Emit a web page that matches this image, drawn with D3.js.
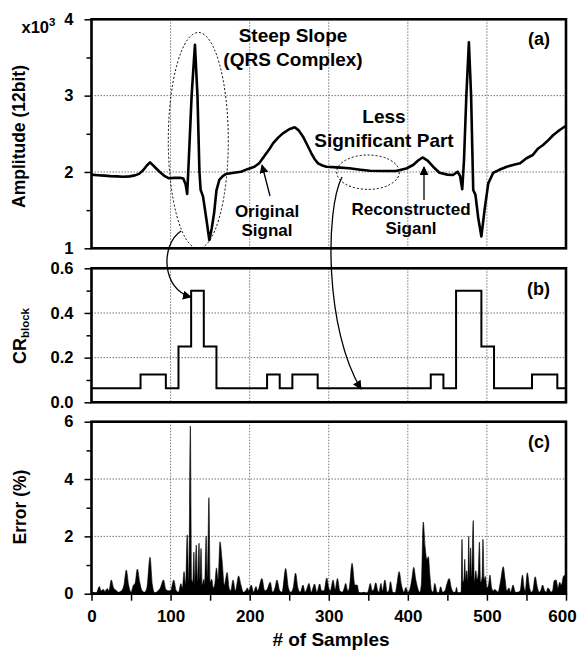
<!DOCTYPE html>
<html>
<head>
<meta charset="utf-8">
<script src="https://cdn.jsdelivr.net/npm/d3@7"></script>
<style>
body { margin: 0; background: #fff; }
svg { display: block; font-family: Arial, "Liberation Sans", sans-serif; font-weight: bold; }
.grid line { stroke: #777; stroke-width: 1; stroke-dasharray: 1.5,1.5; }
</style>
</head>
<body>
<svg width="578" height="650"></svg>
<script>
// ECG amplitude: [sample, value]
var signal = [[0,1965],[8,1958],[16,1952],[24,1946],[32,1942],[40,1938],[48,1942],[55,1955],[60,1975],[65,2020],[70,2085],[74,2125],[79,2075],[86,2003],[92,1950],[98,1917],[105,1922],[112,1925],[116,1915],[119,1840],[121,1711],[123,2150],[126.6,3000],[130.8,3665],[134,3000],[136.5,2000],[138,1765],[141,1680],[145,1400],[149,1109],[152,1260],[155,1459],[158,1760],[161.6,1895],[166,1945],[170,1973],[180,1990],[189,2003],[198,2040],[206,2069],[212,2115],[220,2230],[225,2300],[229.5,2375],[236,2450],[242,2506],[250,2560],[257,2585],[262,2545],[267.5,2462],[273,2350],[278,2245],[282,2170],[286.5,2113],[292,2085],[297,2069],[310,2060],[326,2048],[340,2030],[352,2016],[370,2012],[385,2013],[398,2045],[406.7,2091],[413,2150],[418.6,2190],[425,2150],[432,2069],[440,1990],[450,1965],[457,1960],[463,2003],[466,1950],[468.8,1773],[471,2150],[474,3000],[477.2,3700],[480,3000],[482.7,1764],[485.5,1700],[489,1400],[493,1155],[497,1500],[501.7,1851],[508,1990],[515,2025],[525,2069],[534,2095],[542,2113],[550,2180],[558,2222],[564,2300],[571,2353],[578,2420],[584,2484],[592,2550],[600,2605]];

// CR_block steps, panel (b)
var crEdges = [0,62,94,110,126,142,158,222,238,254,286,429,445,461,493,509,557,589,600];
var crLevels = [0.0625,0.125,0.0625,0.25,0.5,0.25,0.0625,0.125,0.0625,0.125,0.0625,0.125,0.0625,0.5,0.25,0.0625,0.125,0.0625];

// reconstruction error (%), panel (c): [sample, error]
var errorPts = [[0,0],[3,0.05],[6,0.02],[10,0.25],[12,0.1],[15,0.15],[17,0.08],[20,0.18],[22,0.1],[25,0.48],[28,0.2],[31,0.12],[34,0.05],[38,0.1],[41,0.3],[44,0.83],[47,0.3],[50,0.05],[53,0.3],[55,0.35],[58,0.86],[61,0.4],[64,0.1],[67,0.05],[70,0.2],[74,1.27],[77,0.3],[80,0.02],[84,0.1],[87,0.2],[91,0.48],[94,0.15],[97,0.1],[100,0.1],[104,0.48],[107,0.12],[110,0.05],[113,0.35],[115,0.2],[117,0.77],[119,0.3],[121,2.05],[123,0.4],[125,5.85],[126.5,0.5],[128,0.4],[129.5,1.45],[130.5,0.3],[132.5,1.7],[134,0.4],[136,1.76],[137,0.5],[138.5,1.58],[140,0.3],[142,0.5],[143,0.3],[145,2.01],[146.5,0.6],[148.5,3.35],[150,0.4],[152,0.5],[154,0.2],[156,0.35],[158,0.9],[160,0.5],[162.5,1.81],[165,1.2],[168,0.3],[171.5,0.74],[174,0.2],[176,0.1],[179,0.48],[182,0.1],[186,0.62],[189,0.3],[192,0.05],[195,0.1],[197,0.2],[199,0.1],[202,0.3],[205,0.05],[208,0.25],[210,0.1],[215.5,0.53],[219,0.1],[222,0.15],[226,0.4],[229,0.05],[232,0.2],[234.5,0.48],[238,0.1],[241,0.05],[245.5,0.88],[249,0.2],[252,0.05],[255,0.2],[258,0.72],[261,0.2],[264,0.05],[267.5,0.3],[270,0.05],[272,0.15],[275,0.36],[278,0.05],[280,0.2],[282,0.34],[285,0.05],[288.5,0.34],[291,0.1],[294,0.1],[297.5,0.55],[300,0.2],[302,0.1],[305.5,0.48],[308,0.15],[311,0.53],[314,0.1],[317,0.05],[319,0.15],[321.5,0.36],[324,0.1],[326,0.2],[329.5,1.06],[333,0.3],[336,0.3],[338,0.05],[341,0.02],[345,0.05],[348,0],[350,0.1],[352.5,0.36],[355,0.1],[357,0.15],[359.5,0.38],[362,0.1],[363.5,0.05],[366,0.36],[368,0.1],[371,0.48],[374,0.05],[376,0.1],[378,0.42],[381,0.05],[384,0.02],[386,0.3],[389,0.77],[392,0.3],[395,0.05],[397.5,0.22],[400,0.05],[403,0.2],[405,0.5],[407.5,0.92],[410,0.5],[413,0.15],[415,0.05],[417,0.3],[419.5,2.5],[422,1.6],[424,1.2],[426,1.29],[428,0.6],[430,0.1],[432,0.05],[434,0.36],[437,0.05],[439,0.02],[441.5,0.24],[444,0.05],[447,0.1],[449,0.3],[452.3,0.53],[455,0.2],[458,0.05],[460,0.05],[461.6,0.22],[463,0.05],[466,0.02],[467.5,0.1],[468.5,1.9],[469.5,0.4],[471,0.5],[472,1.2],[473,0.5],[474.5,0.8],[476,0.4],[477,2.0],[478,0.5],[479.3,1.6],[480.5,0.6],[482.7,2.55],[484,0.4],[486,0.8],[487.5,0.5],[489,0.7],[490.5,1.8],[492,0.4],[494,0.6],[495,1.9],[496.5,0.5],[498,0.6],[500,0.2],[502,0.3],[503.8,0.65],[506,0.2],[508,0.1],[510,0.15],[512,0.1],[514,0.05],[517,0.4],[520.7,0.94],[523,0.5],[525,0.1],[528,0.2],[530,0.05],[533,0.3],[536,0.05],[539,0.05],[542,0.1],[545,0.65],[547,0.2],[548.5,0.1],[551,0.73],[554,0.2],[556,0.05],[558,0.1],[561,0.59],[564,0.2],[566,0.05],[568,0.1],[570.4,0.3],[573,0.1],[575,0.05],[577,0.2],[579,0.15],[581,0.05],[583,0.1],[585,0.45],[587.5,0.48],[590,0.2],[592,0.4],[594,0.3],[597,0.62],[600,0.65]];

var xGrid = [100, 200, 300, 400, 500];
var xMajor = [0, 100, 200, 300, 400, 500, 600];
var xMinor = [50, 150, 250, 350, 450, 550];

var svg = d3.select("svg");

var x = d3.scaleLinear().domain([0, 600]).range([91.5, 566]);
var yA = d3.scaleLinear().domain([1000, 4000]).range([248.3, 19.3]);
var yB = d3.scaleLinear().domain([0, 0.6]).range([402.3, 268.3]);
var yC = d3.scaleLinear().domain([0, 6]).range([593.7, 421.7]);

function styleAxis(g, size) {
  g.attr("font-family", "Arial, 'Liberation Sans', sans-serif")
   .attr("font-size", size)
   .attr("font-weight", "bold");
  g.select(".domain").remove();
  g.selectAll(".tick line").attr("stroke-width", 1.5);
  g.selectAll(".tick text").attr("fill", "#000");
}

// grid lines, left axis, frame
function panel(y, major, minor, fmt) {
  var r = y.range();
  var gr = svg.append("g").attr("class", "grid");
  gr.selectAll(".vx").data(xGrid).join("line")
    .attr("x1", d => x(d)).attr("x2", d => x(d))
    .attr("y1", r[1]).attr("y2", r[0]);
  gr.selectAll(".hy").data(major.slice(1, -1)).join("line")
    .attr("x1", x(0)).attr("x2", x(600))
    .attr("y1", d => y(d)).attr("y2", d => y(d));

  svg.append("g")
    .attr("transform", "translate(" + x(0) + ",0)")
    .call(d3.axisLeft(y).tickValues(major).tickSize(7).tickPadding(11).tickFormat(fmt))
    .call(g => styleAxis(g, 16.5));
  svg.append("g")
    .attr("transform", "translate(" + x(0) + ",0)")
    .call(d3.axisLeft(y).tickValues(minor).tickSize(5).tickFormat(""))
    .call(g => styleAxis(g, 16.5));
}

panel(yA, [1000, 2000, 3000, 4000], [1500, 2500, 3500], d => d / 1000);
panel(yB, [0, 0.2, 0.4, 0.6], [0.1, 0.3, 0.5], d3.format(".1f"));
panel(yC, [0, 2, 4, 6], [1, 3, 5], d => d);

// (a) signal
var line = d3.line().x(d => x(d[0])).y(d => yA(d[1]));
svg.append("path")
  .datum(signal)
  .attr("fill", "none")
  .attr("stroke", "#000")
  .attr("stroke-width", 2.6)
  .attr("stroke-linejoin", "round")
  .attr("d", line);

// (b) CR block steps
var crSteps = crEdges.map((e, i) => [e, crLevels[Math.min(i, crLevels.length - 1)]]);
svg.append("path")
  .datum(crSteps)
  .attr("fill", "none")
  .attr("stroke", "#000")
  .attr("stroke-width", 2)
  .attr("d", d3.line().curve(d3.curveStepAfter).x(d => x(d[0])).y(d => yB(d[1])));

// (c) error area
svg.append("path")
  .datum(errorPts)
  .attr("fill", "#000")
  .attr("stroke", "#000")
  .attr("stroke-width", 0.6)
  .attr("d", d3.area().curve(d3.curveMonotoneX).x(d => x(d[0])).y0(yC(0)).y1(d => yC(d[1])));

// frames
[yA, yB, yC].forEach(function(y) {
  var r = y.range();
  svg.append("rect")
    .attr("x", x(0)).attr("y", r[1])
    .attr("width", x(600) - x(0)).attr("height", r[0] - r[1])
    .attr("fill", "none").attr("stroke", "#000").attr("stroke-width", 2.6);
});

// bottom x axis
svg.append("g")
  .attr("transform", "translate(0," + yC(0) + ")")
  .call(d3.axisBottom(x).tickValues(xMajor).tickSize(7).tickPadding(9))
  .call(g => styleAxis(g, 17))
  .call(g => g.selectAll(".tick text").filter(d => d === 600).attr("dx", -4));
svg.append("g")
  .attr("transform", "translate(0," + yC(0) + ")")
  .call(d3.axisBottom(x).tickValues(xMinor).tickSize(7).tickFormat(""))
  .call(g => styleAxis(g, 17));

svg.append("text")
  .attr("x", 331).attr("y", 646)
  .attr("text-anchor", "middle").attr("font-size", 19)
  .text("# of Samples");

// y labels
svg.append("text")
  .attr("transform", "rotate(-90)")
  .attr("x", -136.5).attr("y", 24.5)
  .attr("text-anchor", "middle").attr("font-size", 17.5)
  .text("Amplitude (12bit)");

var cr = svg.append("text")
  .attr("transform", "rotate(-90)")
  .attr("x", -336).attr("y", 25.5)
  .attr("text-anchor", "middle").attr("font-size", 18)
  .text("CR");
cr.append("tspan").attr("font-size", 11.5).attr("dy", 3.5).text("block");

svg.append("text")
  .attr("transform", "rotate(-90)")
  .attr("x", -507).attr("y", 25.5)
  .attr("text-anchor", "middle").attr("font-size", 17.5)
  .text("Error (%)");

var mult = svg.append("text").attr("x", 21.5).attr("y", 33).attr("font-size", 16.5).text("x10");
mult.append("tspan").attr("font-size", 11.5).attr("dy", -7).text("3");

// panel tags
svg.append("text").attr("x", 550).attr("y", 45).attr("text-anchor", "end").attr("font-size", 18).text("(a)");
svg.append("text").attr("x", 550).attr("y", 295).attr("text-anchor", "end").attr("font-size", 18).text("(b)");
svg.append("text").attr("x", 550).attr("y", 448).attr("text-anchor", "end").attr("font-size", 18).text("(c)");

// annotations
function label(lines, cx, y0, dy, size) {
  lines.forEach(function(t, i) {
    svg.append("text").attr("x", cx).attr("y", y0 + i * dy)
      .attr("text-anchor", "middle").attr("font-size", size).text(t);
  });
}
label(["Steep Slope", "(QRS Complex)"], 293, 41.7, 24, 19);
label(["Less", "Significant Part"], 384, 122.5, 24, 19);
label(["Original", "Signal"], 267, 216.5, 19, 17);
label(["Reconstructed", "Siganl"], 411, 215, 19, 17);

svg.append("ellipse")
  .attr("cx", 198.3).attr("cy", 140.5).attr("rx", 30).attr("ry", 108)
  .attr("fill", "none").attr("stroke", "#000").attr("stroke-width", 1).attr("stroke-dasharray", "2,2");
svg.append("ellipse")
  .attr("cx", 368).attr("cy", 172.2).attr("rx", 31.3).attr("ry", 17.2)
  .attr("fill", "none").attr("stroke", "#000").attr("stroke-width", 1).attr("stroke-dasharray", "2,2");

svg.append("defs").append("marker")
  .attr("id", "head")
  .attr("viewBox", "0 0 10 10")
  .attr("refX", 9).attr("refY", 5)
  .attr("markerWidth", 9).attr("markerHeight", 9)
  .attr("markerUnits", "userSpaceOnUse")
  .attr("orient", "auto")
  .append("path").attr("d", "M0,0 L10,5 L0,10 Z").attr("fill", "#000");

var arrows = [
  "M181,231 C160,245 162,290 191,297",
  "M342,177 C325,210 325,330 361,389",
  "M270,196 L262,165",
  "M424,200 L424,167"
];
svg.selectAll(".arrow").data(arrows).join("path")
  .attr("class", "arrow")
  .attr("d", d => d)
  .attr("fill", "none").attr("stroke", "#000").attr("stroke-width", 1.3)
  .attr("marker-end", "url(#head)");
</script>
</body>
</html>
